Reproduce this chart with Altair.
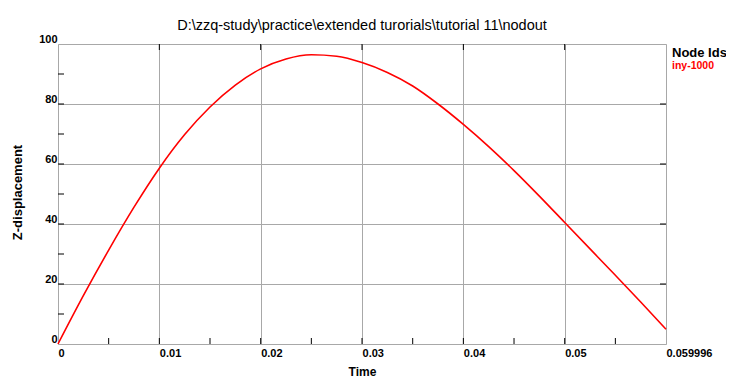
import altair as alt
import pandas as pd

# ---- data ----
time = [0.0, 0.0025, 0.005, 0.0075, 0.01, 0.0125, 0.015, 0.0175, 0.02, 0.0225,
        0.025, 0.0275, 0.03, 0.0325, 0.035, 0.0375, 0.04, 0.0425, 0.045, 0.0475,
        0.05, 0.0525, 0.055, 0.0575, 0.059996]
zdisp = [0.0, 16.1, 31.3, 45.6, 58.6, 69.8, 79.0, 86.3, 91.7, 95.0,
         96.4, 95.9, 93.8, 90.5, 86.0, 80.0, 73.2, 65.8, 57.8, 49.3,
         40.5, 31.7, 22.9, 14.0, 4.9]
series_name = "iny-1000"
x_tick_values = [0, 0.01, 0.02, 0.03, 0.04, 0.05, 0.059996]
y_tick_values = [0, 20, 40, 60, 80, 100]
x_minor = [0.005, 0.01, 0.015, 0.02, 0.025, 0.03, 0.035, 0.04, 0.045, 0.05, 0.055]
x_top = [0.01, 0.02, 0.03, 0.04, 0.05]
y_minor = [10, 20, 30, 40, 50, 60, 70, 80, 90]
y_right = [20, 40, 60, 80]
title_text = r"D:\zzq-study\practice\extended turorials\tutorial 11\nodout"

W, H = 608, 300
FONT = "Liberation Sans"
NARROW = "Liberation Sans Narrow, Liberation Sans"

df = pd.DataFrame({"Time": time, "Z": zdisp})

xs = alt.Scale(domain=[0, 0.059996], nice=False, zero=False)
ys = alt.Scale(domain=[0, 100], nice=False)

line = alt.Chart(df).mark_line(color="#ff0000", strokeWidth=1.6, interpolate="monotone").encode(
    x=alt.X("Time:Q", scale=xs, axis=alt.Axis(
        values=x_tick_values, title="Time", grid=True, gridColor="#a8a8a8",
        ticks=False, domain=False, labelAlign="left", labelBaseline="top",
        labelPadding=3, labelFont=NARROW, labelFontSize=11, labelFontWeight="bold",
        labelColor="black", labelFlush=False, labelOverlap=False,
        labelExpr="datum.value > 0.0599 ? '0.059996' : format(datum.value, '~g')",
        titleFont=FONT, titleFontSize=12, titleFontWeight="bold", titleColor="black",
        titleX=304, titleY=27, titleBaseline="middle", titleAlign="center")),
    y=alt.Y("Z:Q", scale=ys, axis=alt.Axis(
        values=y_tick_values, title="Z-displacement", grid=True, gridColor="#a8a8a8",
        ticks=False, domain=False, labelAlign="right", labelBaseline="bottom",
        labelPadding=1, labelFont=NARROW, labelFontSize=11, labelFontWeight="bold",
        labelColor="black", labelFlush=False, labelOverlap=False,
        titleFont=FONT, titleFontSize=13, titleFontWeight="bold", titleColor="black",
        titleX=-41, titleY=148, titleBaseline="middle", titleAlign="center", titleAngle=270)),
)

bottom_ticks = alt.Chart(pd.DataFrame({"t": x_minor})).mark_rule(color="black").encode(
    x=alt.X("t:Q", scale=xs), y=alt.value(H), y2=alt.value(H - 6))
top_ticks = alt.Chart(pd.DataFrame({"t": x_top})).mark_rule(color="black").encode(
    x=alt.X("t:Q", scale=xs), y=alt.value(0), y2=alt.value(6))
left_ticks = alt.Chart(pd.DataFrame({"v": y_minor})).mark_rule(color="black").encode(
    y=alt.Y("v:Q", scale=ys), x=alt.value(0), x2=alt.value(6))
right_ticks = alt.Chart(pd.DataFrame({"v": y_right})).mark_rule(color="black").encode(
    y=alt.Y("v:Q", scale=ys), x=alt.value(W), x2=alt.value(W - 6))

legend_title = alt.Chart(pd.DataFrame({"s": ["Node Ids"]})).mark_text(
    align="left", baseline="alphabetic", font=FONT, fontSize=13, fontWeight="bold",
    color="black").encode(text="s:N", x=alt.value(W + 6), y=alt.value(13))
legend_item = alt.Chart(pd.DataFrame({"s": [series_name]})).mark_text(
    align="left", baseline="alphabetic", font=FONT, fontSize=10.5, fontWeight="bold",
    color="#ff0000").encode(text="s:N", x=alt.value(W + 6), y=alt.value(25))

chart = alt.layer(line, bottom_ticks, top_ticks, left_ticks, right_ticks,
                  legend_title, legend_item).properties(
    width=W, height=H,
    title=alt.TitleParams(title_text, font=FONT, fontSize=14.5, fontWeight="normal",
                          color="black", anchor="middle", offset=0),
    autosize=alt.AutoSizeParams(type="none"),
    padding={"left": 50, "top": 36, "right": 60, "bottom": 35},
).configure_view(stroke="black", strokeWidth=1.5).configure(background="white")

chart.save("out.html", embed_options={"renderer": "svg", "actions": False})
